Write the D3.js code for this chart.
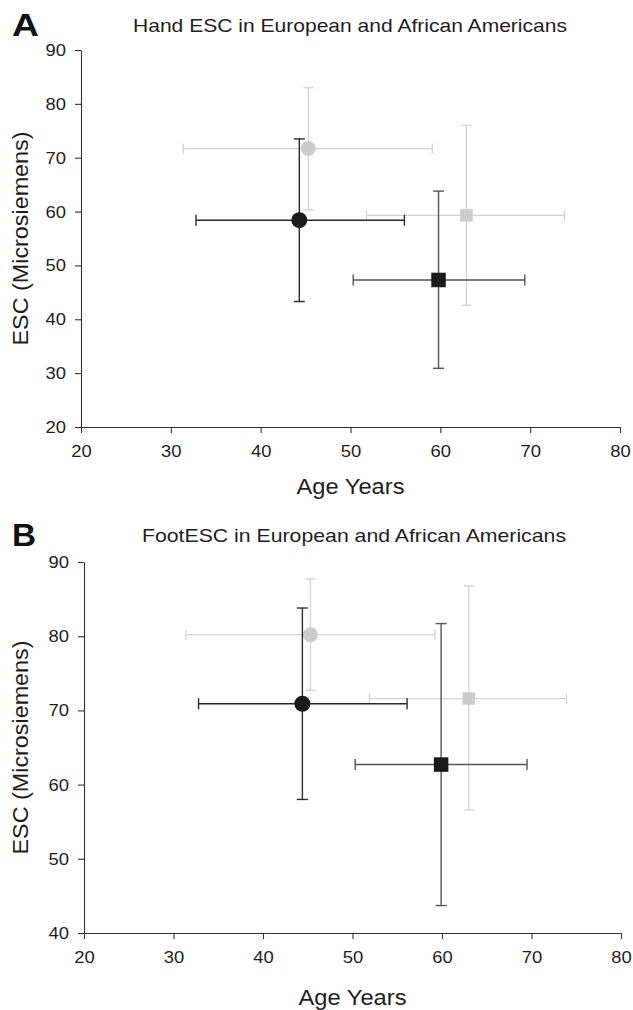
<!DOCTYPE html>
<html>
<head>
<meta charset="utf-8">
<script src="https://cdn.jsdelivr.net/npm/d3@7"></script>
<style>
  html, body { margin: 0; padding: 0; background: #fff; }
  svg { display: block; font-family: "Liberation Sans", Arial, sans-serif; }
</style>
</head>
<body>
<svg id="chart" width="633" height="1010"></svg>
<script>
// ---- Data ----
const groupNames = ["Group 1 (black circle)", "Group 2 (grey circle)", "Group 3 (black square)", "Group 4 (grey square)"];
const groupShapes = ["circle", "circle", "square", "square"];
const groupTones = ["black", "grey", "black", "grey"];

const xTicks = [20, 30, 40, 50, 60, 70, 80];
const handYTicks = [20, 30, 40, 50, 60, 70, 80, 90];
const footYTicks = [40, 50, 60, 70, 80, 90];

// Hand ESC panel (A)
const handAge = [44.3, 45.3, 59.8, 62.9];
const handAgeLo = [32.8, 31.4, 50.3, 51.8];
const handAgeHi = [56.0, 59.1, 69.4, 73.8];
const handESC = [58.4, 71.7, 47.3, 59.3];
const handESCLo = [43.3, 60.3, 30.9, 42.6];
const handESCHi = [73.5, 83.0, 63.8, 76.0];

// Foot ESC panel (B)
const footAge = [44.4, 45.3, 59.9, 63.0];
const footAgeLo = [32.8, 31.4, 50.3, 51.9];
const footAgeHi = [56.1, 59.2, 69.5, 73.9];
const footESC = [70.9, 80.2, 62.7, 71.6];
const footESCLo = [58.0, 72.7, 43.7, 56.6];
const footESCHi = [83.8, 87.7, 81.7, 86.8];

// ---- Styles ----
const markerFill = { black: "#1a1a1a", grey: "#cccccc" };
const barColor = { black: "#2a2a2a", grey: "#d2d2d2" };
const squareBarColor = { black: "#555555", grey: "#d2d2d2" };
const axisColor = "#333";
const textColor = "#1e1e1e";

const svg = d3.select("#chart");

function panel(opt) {
  const g = svg.append("g");
  const x = d3.scaleLinear().domain([20, 80]).range([opt.left, opt.right]);
  const y = d3.scaleLinear().domain(opt.yDomain).range([opt.bottom, opt.top]);

  // panel letter
  g.append("text").attr("x", 12).attr("y", opt.letterY)
    .attr("font-size", 32).attr("font-weight", "bold").attr("fill", "#111")
    .attr("textLength", opt.letterW).attr("lengthAdjust", "spacingAndGlyphs")
    .text(opt.letter);
  // title
  g.append("text").attr("x", opt.titleX).attr("y", opt.titleY)
    .attr("font-size", 19).attr("fill", textColor)
    .attr("textLength", opt.titleW).attr("lengthAdjust", "spacingAndGlyphs")
    .text(opt.title);

  // axes
  const xAxis = d3.axisBottom(x).tickValues(xTicks).tickSize(6).tickPadding(12).tickSizeOuter(0);
  const yAxis = d3.axisLeft(y).tickValues(opt.yTicks).tickSize(6).tickPadding(9).tickSizeOuter(0);
  const gx = g.append("g").attr("transform", `translate(0,${opt.bottom})`).call(xAxis);
  const gy = g.append("g").attr("transform", `translate(${opt.left},0)`).call(yAxis);
  [gx, gy].forEach(a => {
    a.select(".domain").attr("stroke", axisColor).attr("stroke-width", 1.1);
    a.selectAll(".tick line").attr("stroke", axisColor).attr("stroke-width", 1.1);
    a.selectAll(".tick text").attr("font-size", 17).attr("fill", textColor)
      .attr("font-family", "'Liberation Sans', Arial, sans-serif")
      .attr("textLength", 20.5).attr("lengthAdjust", "spacingAndGlyphs");
  });

  // axis titles
  g.append("text").attr("x", (opt.left + opt.right) / 2).attr("y", opt.xTitleY)
    .attr("text-anchor", "middle").attr("font-size", 22).attr("fill", textColor)
    .attr("textLength", 108).attr("lengthAdjust", "spacingAndGlyphs")
    .text("Age Years");
  g.append("text")
    .attr("transform", `translate(28,${(opt.top + opt.bottom) / 2}) rotate(-90)`)
    .attr("text-anchor", "middle").attr("font-size", 22).attr("fill", textColor)
    .attr("textLength", 214).attr("lengthAdjust", "spacingAndGlyphs")
    .text("ESC (Microsiemens)");

  const d = opt.data;
  const order = [1, 3, 0, 2]; // grey behind black
  order.forEach(i => {
    const tone = groupTones[i];
    const col = groupShapes[i] === "square" ? squareBarColor[tone] : barColor[tone];
    const sw = tone === "black" ? 1.4 : 1.3;
    const cap = tone === "black" ? 5.5 : 5;
    const cx = x(d.ax[i]), cy = y(d.ey[i]);
    const eg = g.append("g").attr("stroke", col).attr("stroke-width", sw).attr("fill", "none");
    // horizontal error bar
    eg.append("line").attr("x1", x(d.axLo[i])).attr("x2", x(d.axHi[i])).attr("y1", cy).attr("y2", cy);
    eg.append("line").attr("x1", x(d.axLo[i])).attr("x2", x(d.axLo[i])).attr("y1", cy - cap).attr("y2", cy + cap);
    eg.append("line").attr("x1", x(d.axHi[i])).attr("x2", x(d.axHi[i])).attr("y1", cy - cap).attr("y2", cy + cap);
    // vertical error bar
    eg.append("line").attr("x1", cx).attr("x2", cx).attr("y1", y(d.eyLo[i])).attr("y2", y(d.eyHi[i]));
    eg.append("line").attr("x1", cx - cap).attr("x2", cx + cap).attr("y1", y(d.eyLo[i])).attr("y2", y(d.eyLo[i]));
    eg.append("line").attr("x1", cx - cap).attr("x2", cx + cap).attr("y1", y(d.eyHi[i])).attr("y2", y(d.eyHi[i]));
    // marker
    if (groupShapes[i] === "circle") {
      g.append("circle").attr("cx", cx).attr("cy", cy)
        .attr("r", tone === "black" ? 8 : 7.5).attr("fill", markerFill[tone]);
    } else {
      const s = tone === "black" ? 14.5 : 12.5;
      g.append("rect").attr("x", cx - s / 2).attr("y", cy - s / 2)
        .attr("width", s).attr("height", s).attr("fill", markerFill[tone]);
    }
  });
}

panel({
  letter: "A", letterY: 36, letterW: 27,
  title: "Hand ESC in European and African Americans", titleX: 133, titleY: 32, titleW: 434,
  left: 81, right: 620, top: 50, bottom: 427,
  yDomain: [20, 90], yTicks: handYTicks,
  xTitleY: 494,
  data: { ax: handAge, axLo: handAgeLo, axHi: handAgeHi, ey: handESC, eyLo: handESCLo, eyHi: handESCHi }
});

panel({
  letter: "B", letterY: 546, letterW: 24,
  title: "FootESC in European and African Americans", titleX: 142, titleY: 542, titleW: 424,
  left: 84, right: 621, top: 562, bottom: 933,
  yDomain: [40, 90], yTicks: footYTicks,
  xTitleY: 1005,
  data: { ax: footAge, axLo: footAgeLo, axHi: footAgeHi, ey: footESC, eyLo: footESCLo, eyHi: footESCHi }
});
</script>
</body>
</html>
